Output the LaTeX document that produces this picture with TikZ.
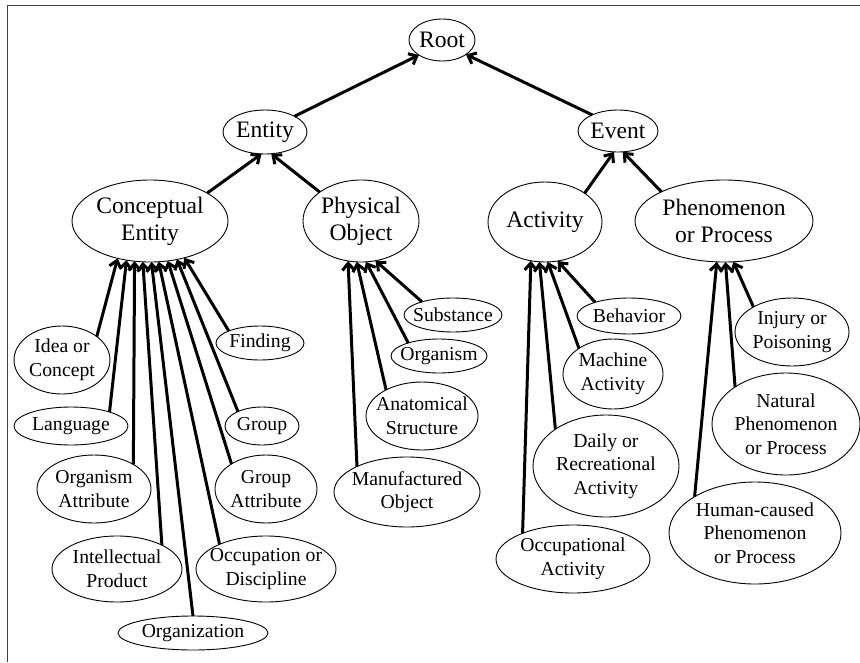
\documentclass[tikz,border=0pt]{standalone}
\usepackage{fontspec}
\setmainfont{Liberation Serif}
\usetikzlibrary{shapes.geometric,arrows.meta}
\begin{document}
\begin{tikzpicture}[x=1pt,y=-1pt,
  nd/.style={ellipse,draw,line width=0.9pt,inner sep=-60pt,outer sep=0pt,align=center},
  big/.style={nd,font=\fontsize{23.6}{27}\selectfont},
  small/.style={nd,font=\fontsize{19.7}{23.5}\selectfont},
  sz/.style 2 args={minimum width=#1*2pt,minimum height=#2*2pt},
  link/.style={line width=3pt,-{Straight Barb[length=7pt,width=12pt]}},
  frame/.style={draw=black!75,line width=1.5pt}]
\useasboundingbox (0,0) rectangle (860,662);
\coordinate (fb) at (7.5,662);
\coordinate (fc) at (7.5,5.5);
\coordinate (fr) at (860,5.5);
\draw[frame] (fb) -- (fc) -- (fr);
% top levels
\node[big,sz={33}{21}] (root) at (442,40) {Root};
\node[big,sz={42}{22}] (entity) at (265,132) {Entity};
\node[big,sz={40}{21}] (event) at (618,131) {Event};
\node[big,sz={78}{41}] (ce) at (150,221) {Conceptual\\Entity};
\node[big,sz={58}{41}] (po) at (361,221) {Physical\\Object};
\node[big,sz={57}{40}] (act) at (545,222) {Activity};
\node[big,sz={89}{41}] (phen) at (724,221) {Phenomenon\\or Process};
% conceptual leaves
\node[small,sz={48}{34}] (idea) at (62,360) {Idea or\\Concept};
\node[small,sz={44}{17}] (finding) at (260,343) {Finding};
\node[small,sz={57}{19}] (lang) at (71,426) {Language};
\node[small,sz={37}{19}] (group) at (262,426) {Group};
\node[small,sz={57}{34}] (orgattr) at (94,489) {Organism\\Attribute};
\node[small,sz={51}{34}] (grpattr) at (266,489) {Group\\Attribute};
\node[small,sz={65}{33}] (intprod) at (117,569) {Intellectual\\Product};
\node[small,sz={70}{33}] (occ) at (266,569) {Occupation or\\Discipline};
\node[small,sz={75}{17}] (orgz) at (193,633) {Organization};
% physical leaves
\node[small,sz={49}{17}] (subst) at (453,315) {Substance};
\node[small,sz={48}{17}] (organism) at (439,356) {Organism};
\node[small,sz={56}{34}] (anat) at (422,416) {Anatomical\\Structure};
\node[small,sz={73}{35}] (manuf) at (407,492) {Manufactured\\Object};
% activity leaves
\node[small,sz={52}{18}] (behav) at (629,316) {Behavior};
\node[small,sz={50}{35}] (mach) at (613,374) {Machine\\Activity};
\node[small,sz={73}{51}] (daily) at (606,466) {Daily or\\Recreational\\Activity};
\node[small,sz={77}{34}] (occact) at (573,559) {Occupational\\Activity};
% phenomenon leaves
\node[small,sz={57}{34}] (injury) at (792,332) {Injury or\\Poisoning};
\node[small,sz={74}{51}] (natural) at (786,424) {Natural\\Phenomenon\\or Process};
\node[small,sz={86}{51}] (human) at (755,533) {Human-caused\\Phenomenon\\or Process};
% edges
\draw[link] (entity.28) -- (root.213);
\draw[link] (event.148.4) -- (root.329);
\draw[link] (ce.26.6) -- (entity.261.5);
\draw[link] (po.145.7) -- (entity.286.7);
\draw[link] (act.36) -- (event.259.2);
\draw[link] (phen.155.7) -- (event.283.4);
\draw[link] (idea.34.4) -- (ce.229.5);
\draw[link] (lang.20.1) -- (ce.239.6);
\draw[link] (orgattr.32.4) -- (ce.249.5);
\draw[link] (intprod.28.1) -- (ce.260.3);
\draw[link] (orgz.90) -- (ce.272.8);
\draw[link] (occ.152.4) -- (ce.282.5);
\draw[link] (grpattr.144.2) -- (ce.294.3);
\draw[link] (group.149) -- (ce.305);
\draw[link] (finding.159.4) -- (ce.313.7);
\draw[link] (manuf.153) -- (po.252);
\draw[link] (anat.144.8) -- (po.264.4);
\draw[link] (organism.157) -- (po.277);
\draw[link] (subst.157.9) -- (po.290.7);
\draw[link] (occact.153.9) -- (act.250.2);
\draw[link] (daily.144) -- (act.262.8);
\draw[link] (mach.143.4) -- (act.274.3);
\draw[link] (behav.158.7) -- (act.288.5);
\draw[link] (human.149) -- (phen.260.3);
\draw[link] (natural.144) -- (phen.272.8);
\draw[link] (injury.147.3) -- (phen.283.8);
\end{tikzpicture}
\end{document}
